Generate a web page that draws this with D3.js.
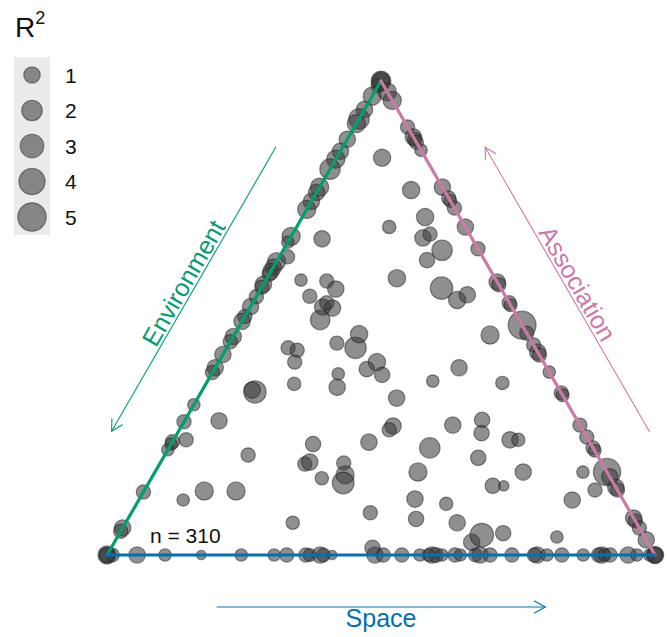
<!DOCTYPE html>
<html>
<head>
<meta charset="utf-8">
<script src="https://cdn.jsdelivr.net/npm/d3@7"></script>
<style>
  body { margin: 0; background: #fff; }
  svg { display: block; font-family: "Liberation Sans", Arial, Helvetica, sans-serif; }
</style>
</head>
<body>
<div id="chart"></div>
<script>
// shares in percent: [environment, space, association, R2]
const bottomEdge = [
  [100,0,0,1.4],[100,0,0,0.9],[99,1,0,0.5],[100,0,0,0.6],
  [94.5,5.5,0,1.0],[89.4,10.6,0,0.35],[82.8,17.2,0,0.08],[75.5,24.5,0,0.35],
  [69.5,30.5,0,0.35],[67.2,32.8,0,0.6],[63.7,36.3,0,0.6],[63,37,0,0.4],
  [61.1,38.9,0,1.0],[60.5,39.5,0,0.5],[58.9,41.1,0,0.08],[51.1,48.9,0,1.0],
  [49.6,50.4,0,0.6],[46.2,53.8,0,0.6],[42.9,57.1,0,0.35],[40.7,59.3,0,1.0],
  [40,60,0,0.7],[41.3,58.7,0,0.4],[38.9,61.1,0,0.35],[36.5,63.5,0,0.6],
  [35.5,64.5,0,0.3],[32.8,67.2,0,0.5],[31.9,68.1,0,1.0],[30.1,69.9,0,0.6],
  [26.1,73.9,0,0.6],[21.5,78.5,0,1.0],[22,78,0,0.6],[19.7,80.3,0,0.35],
  [17,83,0,0.6],[13.1,86.9,0,0.35],[9.7,90.3,0,1.0],[10.3,89.7,0,0.6],
  [9.2,90.8,0,0.4],[8.2,91.8,0,0.6],[4.9,95.1,0,1.0],[3.3,96.7,0,0.35],
  [0,100,0,1.2],[0,100,0,0.6],[1,99,0,0.3],[0,100,0,0.9]
];

const leftEdge = [
  [0,0,100,1.4],[0,0,100,1.0],[1,0,99,0.6],[0,0,100,1.8],[3.2,0,96.8,1.4],[6,0,94,1.0],
  [8,0,92,2.0],[9,0,91,1.4],[12.3,0,87.7,1.0],[14.8,0,85.2,1.0],[16.5,0,83.5,1.4],
  [18.6,0,81.4,2.0],[22.4,0,77.6,1.4],[23.5,0,76.5,1.0],[25.4,0,74.6,1.0],
  [27.1,0,72.9,1.4],[32.8,0,67.2,1.4],[34,0,66,0.35],[38.1,0,61.9,1.4],
  [39.3,0,60.7,1.0],[40.2,0,59.8,1.0],[40.8,0,59.2,0.6],[42.9,0,57.1,1.0],
  [43.5,0,56.5,0.6],[45.5,0,54.5,0.6],[47.6,0,52.4,1.0],[49.7,0,50.3,0.6],
  [50.7,0,49.3,1.0],[53.9,0,46.1,1.0],[55,0,45,0.6],[57.7,0,42.3,1.0],
  [60.5,0,39.5,1.0],[61.5,0,38.5,0.6],[68.3,0,31.7,0.35],[71.9,0,28.1,0.6],
  [76.1,0,23.9,0.6],[76.6,0,23.4,0.35],[77.8,0,22.2,0.35],[86.7,0,13.3,0.6],
  [94.3,0,5.7,1.0],[95,0,5,0.6]
];

const rightEdge = [
  [0,2.3,97.7,1.4],[0,4.1,95.9,1.4],[0,9.7,90.3,0.6],[0,11.8,88.2,1.0],
  [0,12.3,87.7,0.6],[0,12.9,87.1,0.6],[0,14.6,85.4,0.35],[0,22.4,77.6,1.0],
  [0,24.7,75.3,0.6],[0,25.3,74.7,0.4],[0,26.8,73.2,0.6],[0,30.8,69.2,1.0],
  [0,35.4,64.6,0.6],[0,42.4,57.6,1.0],[0,43,57,0.6],[0,46.8,53.2,0.6],
  [0,47.3,52.7,0.4],[0,51.5,48.5,4.8],[0,53.2,46.8,0.6],[0,55.7,44.3,0.6],
  [0,57.2,42.8,1.0],[0,57.8,42.2,0.6],[0,61.4,38.6,0.35],[0,65.8,34.2,0.6],
  [0,66.3,33.7,0.4],[0,72.6,27.4,0.6],[0,75.1,24.9,0.6],[0,77.4,22.6,0.6],
  [0,78,22,0.4],[0,82.5,17.5,4.5],[0,83.5,16.5,1.0],[0,85.7,14.3,1.0],
  [0,86.3,13.7,0.6],[0,92.2,7.8,1.0],[0,92.8,7.2,0.6],[0,94.3,5.7,0.6],
  [0,96.8,3.2,1.0]
];

const inner = [
  [7.9,8.3,83.8,1.2],[6.0,17.0,77.0,1.2],[13.9,16.9,69.2,0.47],[6.3,22.4,71.3,1.2],
  [8.9,24.2,66.9,1.0],[7.2,25.1,67.7,0.6],[6.7,29.0,64.3,2.0],[10.5,27.3,62.2,0.8],
  [17.9,23.7,58.4,1.2],[10.8,32.9,56.3,2.6],[9.2,37.0,53.8,1.2],[6.8,38.3,54.9,1.0],
  [27.4,5.9,66.7,1.0],[35.6,6.4,58.0,0.35],[31.0,11.2,57.8,0.6],[30.2,13.7,56.1,1.0],
  [35.7,9.7,54.6,0.6],[34.5,13.2,52.3,1.0],[32.8,15.1,52.1,1.0],[33.3,13.5,53.2,0.6],
  [36.3,14.1,49.6,1.8],[35.7,19.6,44.7,0.6],[32.8,23.5,43.7,2.3],[30.7,22.7,46.6,1.2],
  [45.1,11.2,43.7,0.6],[43.7,13.1,43.2,0.6],[45.4,13.9,40.7,0.6],[47.8,16.1,36.1,0.47],
  [38.7,23.1,38.2,0.35],[40.3,24.3,35.4,1.0],[30.4,28.9,40.7,1.2],[33.0,27.8,39.2,0.8],
  [30.8,31.2,38.0,0.8],[30.6,36.3,33.1,1.0],[22.2,41.1,36.7,0.35],[16.0,44.5,39.5,1.0],
  [23.2,49.4,27.4,1.0],[34.2,38.6,27.2,1.0],[35.3,38.3,26.4,0.6],[40.3,35.9,23.8,1.0],
  [50.7,25.9,23.4,0.8],[54.3,26.5,19.2,0.6],[53.2,27.2,19.6,1.0],[52.7,31.1,16.2,0.47],
  [47.1,33.5,19.4,0.6],[48.1,35.0,16.9,1.4],[49.3,35.5,15.2,2.4],[29.8,47.6,22.6,2.0],
  [34.5,48.0,17.5,1.4],[37.9,50.3,11.8,1.0],[32.7,56.5,10.8,0.47],[39.8,52.6,7.6,0.8],
  [32.7,60.5,6.8,1.0],[47.5,43.6,8.9,0.6],[62.7,30.5,6.8,0.47],[50.8,47.7,1.5,0.8],
  [32.1,65.2,2.7,1.0],[29.5,66.3,4.2,3.0],[25.4,70.0,4.6,0.8],[16.0,80.2,3.8,0.35],
  [6.9,46.7,46.4,1.4],[9.7,54.0,36.3,0.47],[17.3,54.2,28.5,0.8],[18.8,55.5,25.7,0.8],
  [14.3,61.4,24.3,1.0],[12.8,62.9,24.3,0.47],[22.0,57.5,20.5,0.8],[15.3,67.2,17.5,1.0],
  [22.3,63.1,14.6,0.8],[20.3,65.1,14.6,0.14],[4.1,82.2,13.7,0.6],[4.4,78.1,17.5,0.35],
  [9.3,79.1,11.6,1.0],[65.4,6.3,28.3,1.0],[55.8,9.8,34.4,2.6],[56.1,9.1,34.8,1.0],
  [63.7,15.2,21.1,0.6],[75.5,11.0,13.5,1.4],[69.7,16.8,13.5,1.4],[80.3,8.1,11.6,0.35],
  [35.6,1.5,62.9,0.6],[73.4,2.3,24.3,0.6]
];

const legendValues = [1, 2, 3, 4, 5];
const axisNames = ['Environment', 'Space', 'Association'];
const sampleLabel = 'n = 310';

const width = 667;
const height = 637;

const svg = d3.select('#chart')
  .append('svg')
  .attr('width', width)
  .attr('height', height);

// base position runs along the bottom edge, height follows association share
const xScale = d3.scaleLinear().domain([0, 100]).range([107, 655]);
const yScale = d3.scaleLinear().domain([0, 100]).range([555, 81]);
const rScale = d3.scalePow().exponent(0.5).domain([0, 5]).range([3.4, 14.2]);

function project(d) {
  const total = d[0] + d[1] + d[2];
  const spa = (d[1] / total) * 100;
  const asc = (d[2] / total) * 100;
  return [xScale(spa + asc / 2), yScale(asc)];
}

const vEnv = project([100, 0, 0]);
const vSpa = project([0, 100, 0]);
const vAsc = project([0, 0, 100]);

const points = [...bottomEdge, ...leftEdge, ...rightEdge, ...inner];

function styleDot(sel) {
  sel.attr('fill', '#3a3a3a')
    .attr('fill-opacity', 0.57)
    .attr('stroke', '#222')
    .attr('stroke-opacity', 0.5)
    .attr('stroke-width', 1.2);
}

svg.append('g')
  .attr('class', 'dots')
  .selectAll('circle')
  .data(points)
  .join('circle')
  .attr('cx', (d) => project(d)[0])
  .attr('cy', (d) => project(d)[1])
  .attr('r', (d) => rScale(d[3]))
  .call(styleDot);

// triangle edges on top of the points
const edges = [
  { a: vEnv, b: vAsc, color: '#009E73' },
  { a: vAsc, b: vSpa, color: '#CC79A7' },
  { a: vEnv, b: vSpa, color: '#0072B2' },
];
svg.append('g')
  .selectAll('line')
  .data(edges)
  .join('line')
  .attr('x1', (d) => d.a[0]).attr('y1', (d) => d.a[1])
  .attr('x2', (d) => d.b[0]).attr('y2', (d) => d.b[1])
  .attr('stroke', (d) => d.color)
  .attr('stroke-width', 3.2)
  .attr('stroke-linecap', 'round');

// direction arrows + labels, parallel to each edge, outside the triangle
const arrows = [
  { name: axisNames[0], from: vAsc, to: vEnv, color: '#009E73', off: 58, textOff: 61, angle: -60 },
  { name: axisNames[2], from: vSpa, to: vAsc, color: '#CC79A7', off: 57, textOff: 60, angle: 60 },
  { name: axisNames[1], from: vEnv, to: vSpa, color: '#0072B2', off: 52, textOff: 72, angle: 0 },
];

const centroid = [(vEnv[0] + vSpa[0] + vAsc[0]) / 3, (vEnv[1] + vSpa[1] + vAsc[1]) / 3];

arrows.forEach((a) => {
  const dx = a.to[0] - a.from[0];
  const dy = a.to[1] - a.from[1];
  const len = Math.hypot(dx, dy);
  const ux = dx / len, uy = dy / len;
  let nx = -uy, ny = ux;
  const mid = [(a.from[0] + a.to[0]) / 2, (a.from[1] + a.to[1]) / 2];
  if ((mid[0] - centroid[0]) * nx + (mid[1] - centroid[1]) * ny < 0) { nx = -nx; ny = -ny; }

  const p0 = [a.from[0] + ux * len * 0.2 + nx * a.off, a.from[1] + uy * len * 0.2 + ny * a.off];
  const p1 = [a.from[0] + ux * len * 0.8 + nx * a.off, a.from[1] + uy * len * 0.8 + ny * a.off];

  const g = svg.append('g');
  g.append('line')
    .attr('x1', p0[0]).attr('y1', p0[1])
    .attr('x2', p1[0]).attr('y2', p1[1])
    .attr('stroke', a.color)
    .attr('stroke-width', 1.1);

  const head = 13, spread = 0.5;
  const back = Math.atan2(-uy, -ux);
  const h1 = [p1[0] + head * Math.cos(back + spread), p1[1] + head * Math.sin(back + spread)];
  const h2 = [p1[0] + head * Math.cos(back - spread), p1[1] + head * Math.sin(back - spread)];
  g.append('path')
    .attr('d', `M${h1[0]},${h1[1]}L${p1[0]},${p1[1]}L${h2[0]},${h2[1]}`)
    .attr('fill', 'none')
    .attr('stroke', a.color)
    .attr('stroke-width', 1.1);

  const tx = mid[0] + nx * a.textOff;
  const ty = mid[1] + ny * a.textOff;
  g.append('text')
    .attr('transform', `translate(${tx},${ty}) rotate(${a.angle})`)
    .attr('text-anchor', 'middle')
    .attr('font-size', 25)
    .attr('fill', a.color)
    .text(a.name);
});

svg.append('text')
  .attr('x', 150)
  .attr('y', 543)
  .attr('font-size', 21)
  .attr('fill', '#111')
  .text(sampleLabel);

// legend
const legend = svg.append('g').attr('class', 'legend');
const title = legend.append('text')
  .attr('x', 15)
  .attr('y', 37)
  .attr('font-size', 28)
  .attr('fill', '#111');
title.append('tspan').text('R');
title.append('tspan').attr('dy', -13).attr('font-size', 18).text('2');

legend.append('rect')
  .attr('x', 14).attr('y', 57)
  .attr('width', 36).attr('height', 178)
  .attr('fill', '#ebebeb');

const legendY = d3.scalePoint().domain(legendValues).range([75, 217]);

legend.selectAll('circle')
  .data(legendValues)
  .join('circle')
  .attr('cx', 32)
  .attr('cy', (d) => legendY(d))
  .attr('r', (d) => rScale(d))
  .call(styleDot);

legend.selectAll('text.lab')
  .data(legendValues)
  .join('text')
  .attr('class', 'lab')
  .attr('x', 65)
  .attr('y', (d) => legendY(d))
  .attr('dy', '0.36em')
  .attr('font-size', 21)
  .attr('fill', '#111')
  .text((d) => d);
</script>
</body>
</html>
